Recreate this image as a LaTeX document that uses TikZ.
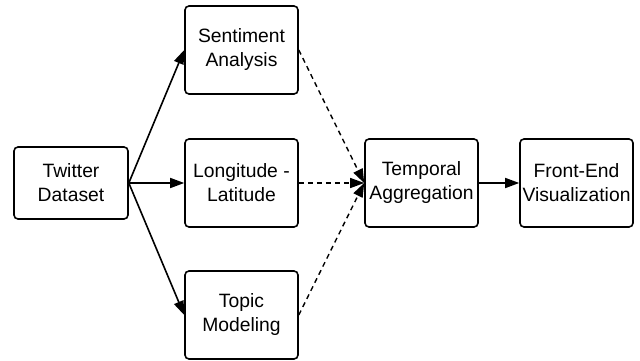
\documentclass[tikz,border=0pt]{standalone}
\usepackage{fontspec}
\setmainfont{Liberation Sans}
\usetikzlibrary{arrows.meta}

\tikzset{
  block/.style={draw, line width=1.6pt, rounded corners=4pt, minimum width=113pt, minimum height=88pt, inner sep=0pt, align=center, font=\fontsize{19.3}{24}\selectfont},
  flow/.style={-{Triangle[length=14pt,width=10pt]}, line width=1.6pt},
  feed/.style={-{Triangle[length=14pt,width=10pt]}, line width=1.4pt, dash pattern=on 5pt off 4pt}
}

\begin{document}
\begin{tikzpicture}[x=1pt, y=-1pt]
	\useasboundingbox (0,0) rectangle (640,361);

	\node[block, minimum width=114pt, minimum height=72pt] (tw) at (71,183) {Twitter\\Dataset};
	\node[block] (sa) at (241.5,50) {Sentiment\\Analysis};
	\node[block] (ll) at (241.5,183) {Longitude -\\Latitude};
	\node[block] (tm) at (241.5,315) {Topic\\Modeling};
	\node[block] (ta) at (421.5,183) {Temporal\\Aggregation};
	\node[block] (fe) at (576.5,183) {Front-End\\Visualization};

	\draw[flow] (tw.east) -- (sa.west);
	\draw[flow] (tw.east) -- (ll.west);
	\draw[flow] (tw.east) -- (tm.west);

	\draw[feed] (sa.east) -- (ta.west);
	\draw[feed] (ll.east) -- (ta.west);
	\draw[feed] (tm.east) -- (ta.west);

	\draw[flow] (ta.east) -- (fe.west);
\end{tikzpicture}
\end{document}
